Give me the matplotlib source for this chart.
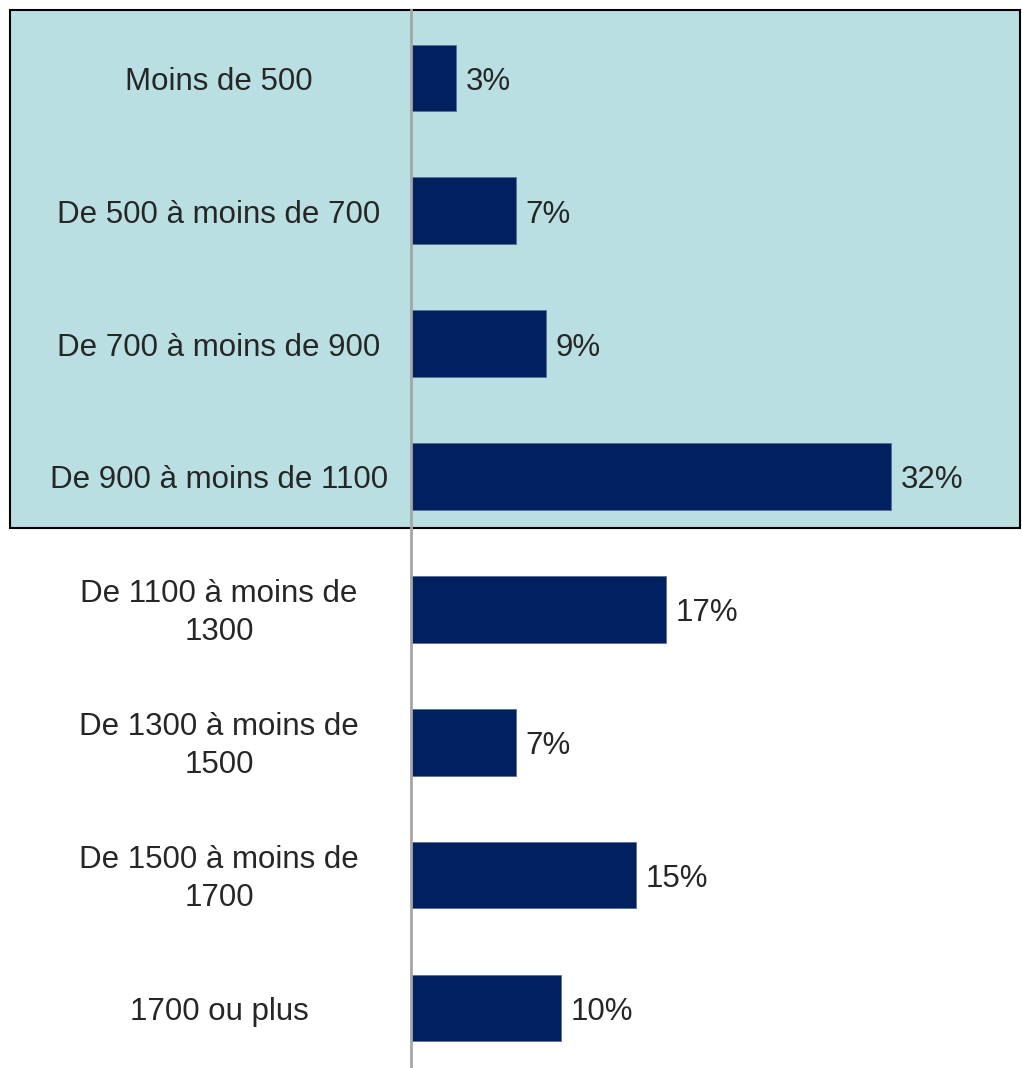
import matplotlib
matplotlib.use("Agg")
import matplotlib.pyplot as plt
from matplotlib.patches import Rectangle
from matplotlib.transforms import blended_transform_factory

# data
categories = [
    "Moins de 500",
    "De 500 à moins de 700",
    "De 700 à moins de 900",
    "De 900 à moins de 1100",
    "De 1100 à moins de\n1300",
    "De 1300 à moins de\n1500",
    "De 1500 à moins de\n1700",
    "1700 ou plus",
]
shares = [3, 7, 9, 32, 17, 7, 15, 10]
value_labels = ["3%", "7%", "9%", "32%", "17%", "7%", "15%", "10%"]
n_highlight = 4

plt.rcParams['font.family'] = ['Liberation Sans', 'DejaVu Sans']
W, H = 1022, 1068
fig = plt.figure(figsize=(W / 100, H / 100), dpi=100)
fig.patch.set_facecolor("white")

ax_left, ax_right, ax_top = 411, 1020, 10
ax = fig.add_axes([ax_left / W, 0, (ax_right - ax_left) / W, (H - ax_top) / H])
ax.patch.set_alpha(0)

row_px = 132.9
ypos = list(range(len(categories)))
ax.barh(ypos, shares, height=0.5, color="#002060", edgecolor="#5a6f8f",
        linewidth=0.6, zorder=3)
ax.set_xlim(0, (ax_right - ax_left) / 15.0)
ax.set_ylim(-0.51 + (H - ax_top) / row_px, -0.51)

for s in ["top", "right", "bottom"]:
    ax.spines[s].set_visible(False)
ax.spines["left"].set_color("#A6A6A6")
ax.spines["left"].set_linewidth(2)
ax.spines["left"].set_zorder(4)
ax.set_xticks([])
ax.set_yticks([])

txt = "#262626"
dy = 0.03  # text sits a touch lower than the box centre
for y, v, lab in zip(ypos, shares, value_labels):
    ax.text(v + 0.65, y + dy, lab, va="center", ha="left", fontsize=22.5, color=txt)

blend = blended_transform_factory(fig.transFigure, ax.transData)
for y, cat in zip(ypos, categories):
    ax.text(219 / W, y + dy, cat, transform=blend, ha="center", va="center",
            fontsize=22.5, color=txt, linespacing=1.35, clip_on=False)

# shaded box behind the first categories
box = Rectangle((10 / W, -0.51), (1020 - 10) / W, n_highlight - 0.1,
                transform=blend, facecolor="#B9DFE2", edgecolor="black",
                linewidth=1.5, zorder=0, clip_on=False)
ax.add_patch(box)

fig.savefig("out.png", dpi=100, facecolor="white")
